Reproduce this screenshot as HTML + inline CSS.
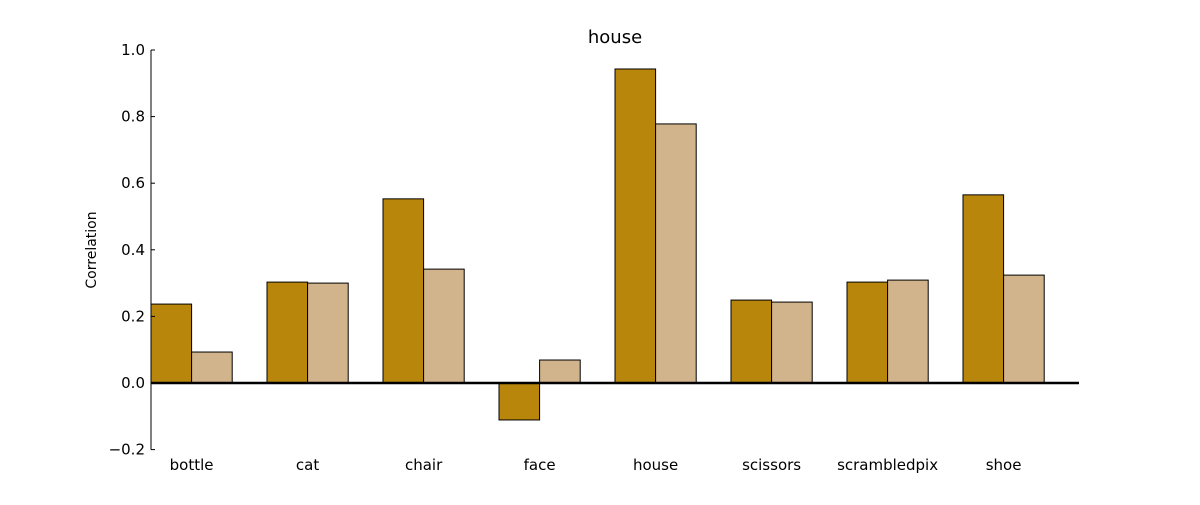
<!DOCTYPE html>
<html><head><meta charset="utf-8"><style>
body{margin:0;background:#fff;}
svg text{font-family:"DejaVu Sans","Liberation Sans",sans-serif;}
</style></head><body>
<svg id="chart" width="1200" height="500" xmlns="http://www.w3.org/2000/svg">
<rect width="1200" height="500" fill="#fff"/>
<text x="615" y="43" font-size="18" text-anchor="middle">house</text>
<text transform="translate(96,250) rotate(-90)" font-size="14" text-anchor="middle">Correlation</text>
<g id="plot"></g>
</svg>
<script>
const categories=["bottle","cat","chair","face","house","scissors","scrambledpix","shoe"];
const seriesA=[0.237,0.303,0.553,-0.111,0.943,0.249,0.303,0.565];
const seriesB=[0.093,0.300,0.342,0.069,0.778,0.243,0.309,0.324];
const yTicks=[-0.2,0.0,0.2,0.4,0.6,0.8,1.0];
const yTickLabels=["\u22120.2","0.0","0.2","0.4","0.6","0.8","1.0"];

const x0=151,step=116,bw=0.35;
const yPx=v=>383-v*333;
const xPx=i=>x0+i*step;
const g=document.getElementById('plot');
const NS='http://www.w3.org/2000/svg';
function mk(tag,attrs){const e=document.createElementNS(NS,tag);for(const k in attrs)e.setAttribute(k,attrs[k]);g.appendChild(e);return e;}
categories.forEach((c,i)=>{
  [[seriesA,'#b8860b',0],[seriesB,'#d2b48c',bw]].forEach(([s,col,off],j)=>{
    const v=s[i];const y1=yPx(Math.max(v,0)),y2=yPx(Math.min(v,0));
    const r=mk('rect',{x:xPx(i+off),y:y1,width:bw*step,height:y2-y1,fill:col,stroke:'#000','stroke-width':1});
    
    
  });
  const t=mk('text',{x:xPx(i+bw),y:470,'font-size':15,'text-anchor':'middle'});
  t.textContent=c;
  
  
});
yTicks.forEach((v,i)=>{
  const y=yPx(v);
  const l=mk('line',{x1:x0,x2:x0+4,y1:y,y2:y,stroke:'#000'});
  
  
  const t=mk('text',{x:x0-6,y:y+5,'font-size':15,'text-anchor':'end'});
  t.textContent=yTickLabels[i];
  
  
});
const sp=mk('line',{x1:x0,x2:x0,y1:yPx(1),y2:yPx(-0.2),stroke:'#000'});


const z=mk('line',{x1:x0,x2:xPx(8),y1:yPx(0),y2:yPx(0),stroke:'#000','stroke-width':2.5});


</script>
</body></html>
